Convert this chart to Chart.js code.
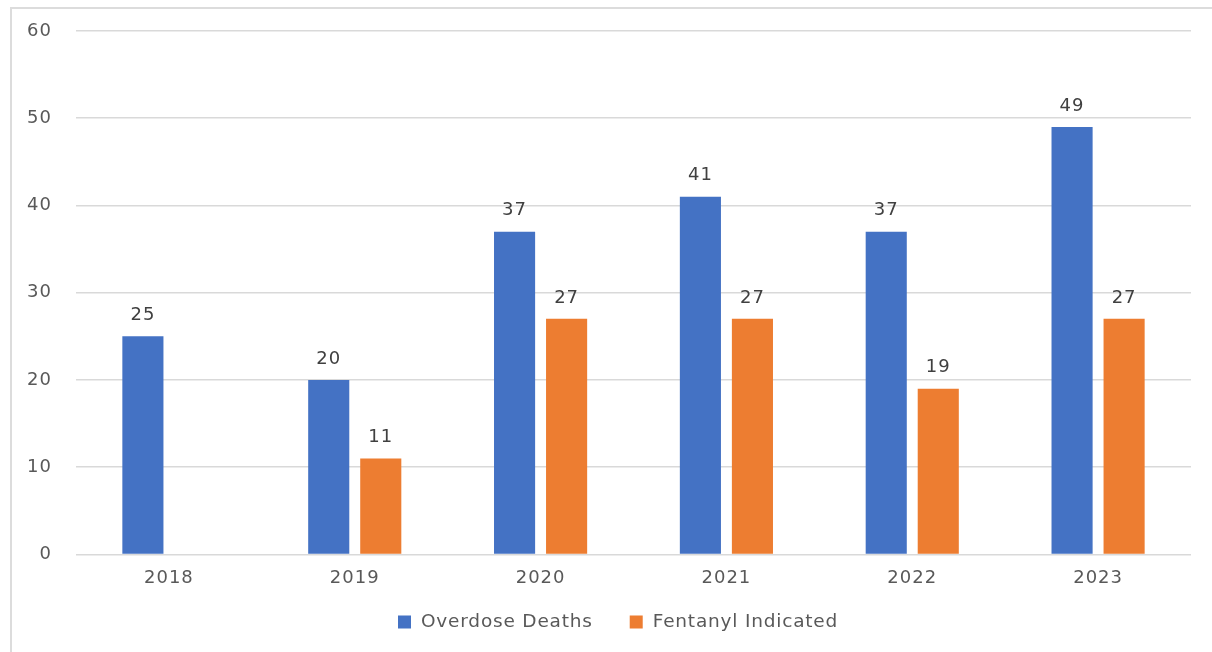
<!DOCTYPE html>
<html>
<head>
<meta charset="utf-8">
<script src="https://cdn.jsdelivr.net/npm/chart.js@4"></script>
<style>
  body { margin: 0; background: #fff; overflow: hidden; }
  #marco { position: absolute; left: 10px; top: 7px; width: 1220px; height: 700px; border: 2px solid #dcdcdc; }
  #caja { position: absolute; left: 0; top: 0; width: 1212px; height: 652px; }
</style>
</head>
<body>
<div id="marco"></div>
<div id="caja"><canvas id="myChart" width="1212" height="652"></canvas></div>
<script>
// datos
const anios = ["2018", "2019", "2020", "2021", "2022", "2023"];
const muertes = [25, 20, 37, 41, 37, 49];
const fentanilo = [null, 11, 27, 27, 19, 27];
const ticksY = [0, 10, 20, 30, 40, 50, 60];

const fuente = "'DejaVu Sans', Verdana, sans-serif";
const gris = "#595959";

// texto un poco mas ancho, como en la imagen
const espaciado = {
    id: "espaciado",
    beforeLayout(chart) { chart.ctx.letterSpacing = "1px"; },
    beforeDraw(chart) { chart.ctx.letterSpacing = "1px"; }
};

// etiquetas encima de cada barra
const etiquetasBarras = {
    id: "etiquetasBarras",
    afterDatasetsDraw(chart) {
        const ctx = chart.ctx;
        ctx.save();
        ctx.font = "18px " + fuente;
        ctx.fillStyle = "#404040";
        ctx.textAlign = "center";
        ctx.textBaseline = "middle";
        chart.data.datasets.forEach((ds, i) => {
            chart.getDatasetMeta(i).data.forEach((barra, j) => {
                if (ds.data[j] == null) return;
                ctx.fillText(ds.data[j], barra.x, barra.y - 21);
            });
        });
        ctx.restore();
    }
};

// leyenda abajo, dibujada a mano para controlar los espacios
const leyenda = {
    id: "leyenda",
    afterDraw(chart) {
        const ctx = chart.ctx;
        ctx.save();
        ctx.font = "18.5px " + fuente;
        ctx.letterSpacing = "0.8px";
        ctx.textBaseline = "middle";
        ctx.textAlign = "left";
        let x = 398;
        const y = 622;
        chart.data.datasets.forEach((ds) => {
            ctx.fillStyle = ds.backgroundColor;
            ctx.fillRect(x, y - 6.5, 13, 13);
            ctx.fillStyle = gris;
            ctx.fillText(ds.label, x + 23, y);
            x += 23 + ctx.measureText(ds.label).width + 37;
        });
        ctx.restore();
    }
};

const grafica = document.getElementById("myChart").getContext("2d");
const myChart = new Chart(grafica, {
    type: "bar",
    data: {
        labels: anios,
        datasets: [
            { label: "Overdose Deaths", data: muertes, backgroundColor: "#4472C4" },
            { label: "Fentanyl Indicated", data: fentanilo, backgroundColor: "#ED7D31" }
        ]
    },
    options: {
        responsive: false,
        animation: false,
        categoryPercentage: 0.56,
        barPercentage: 0.79,
        layout: { padding: { top: 31, right: 21, left: 0, bottom: 50 } },
        plugins: {
            tooltip: { enabled: false },
            legend: { display: false }
        },
        scales: {
            x: {
                grid: { display: false, drawTicks: false },
                border: { display: false },
                ticks: { color: gris, padding: 13, font: { family: fuente, size: 18 } }
            },
            y: {
                min: 0,
                max: 60,
                afterFit(scale) { scale.width = 76; },
                afterBuildTicks(scale) { scale.ticks = ticksY.map(v => ({ value: v })); },
                // el espacio entre numero y linea va en tickLength (transparente)
                grid: { color: "#d9d9d9", lineWidth: 1.5, drawTicks: true, tickLength: 24, tickColor: "rgba(0,0,0,0)" },
                border: { display: false },
                ticks: { color: gris, padding: 0, font: { family: fuente, size: 18 } }
            }
        }
    },
    plugins: [espaciado, etiquetasBarras, leyenda]
});
</script>
</body>
</html>
